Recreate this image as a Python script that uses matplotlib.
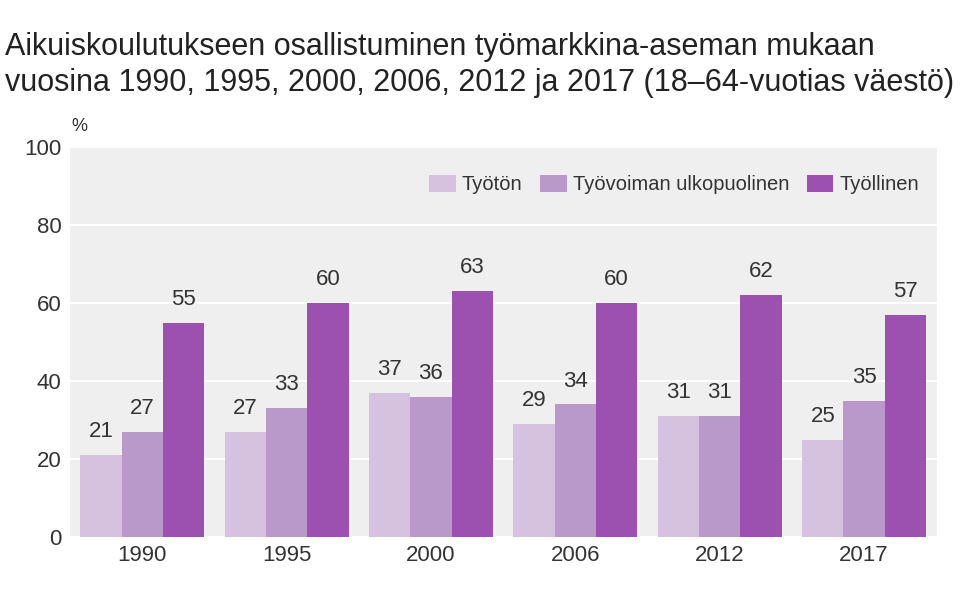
import numpy as np
import matplotlib.pyplot as plt

plt.rcParams['font.family'] = ['Liberation Sans Narrow', 'Liberation Sans', 'DejaVu Sans']

years = ['1990', '1995', '2000', '2006', '2012', '2017']
series_names = ['Työtön', 'Työvoiman ulkopuolinen', 'Työllinen']
tyoton = [21, 27, 37, 29, 31, 25]
ulkopuolinen = [27, 33, 36, 34, 31, 35]
tyollinen = [55, 60, 63, 60, 62, 57]
colors = ['#d6c2df', '#b998ca', '#9c51b0']

fig = plt.figure(figsize=(9.68, 5.99), dpi=100)
ax = fig.add_axes([0.0723, 0.1035, 0.8957, 0.651])
ax.set_facecolor('#efefef')

x = np.arange(len(years))
w = 0.286
for i, (vals, name, c) in enumerate(zip([tyoton, ulkopuolinen, tyollinen], series_names, colors)):
    pos = x + (i - 1) * w
    ax.bar(pos, vals, width=w, color=c, label=name, zorder=3)
    for p, v in zip(pos, vals):
        ax.text(p, v + 3.3, str(v), ha='center', va='bottom', fontsize=16, color='#333333')

ax.set_ylim(0, 100)
ax.set_xlim(-0.5, 5.505)
ax.set_yticks([0, 20, 40, 60, 80, 100])
ax.set_xticks(x)
ax.set_xticklabels(years)
ax.tick_params(length=0, labelsize=16, colors='#333333', pad=6)
ax.grid(axis='y', color='white', linewidth=1.5, zorder=1)
for s in ax.spines.values():
    s.set_visible(False)

ax.text(0.002, 1.04, '%', transform=ax.transAxes, fontsize=13, color='#333333')

leg = ax.legend(loc='upper right', ncol=3, frameon=False, fontsize=14.5,
                handlelength=1.3, handleheight=0.9, handletextpad=0.3,
                columnspacing=0.9, bbox_to_anchor=(1.0, 0.975))
for t in leg.get_texts():
    t.set_color('#333333')

fig.text(0.005, 0.908, 'Aikuiskoulutukseen osallistuminen työmarkkina-aseman mukaan',
         fontsize=22, color='#222222', family=['Liberation Sans', 'DejaVu Sans'])
fig.text(0.005, 0.848, 'vuosina 1990, 1995, 2000, 2006, 2012 ja 2017 (18–64-vuotias väestö)',
         fontsize=22, color='#222222', family=['Liberation Sans', 'DejaVu Sans'])

fig.savefig('out.png', dpi=100)
